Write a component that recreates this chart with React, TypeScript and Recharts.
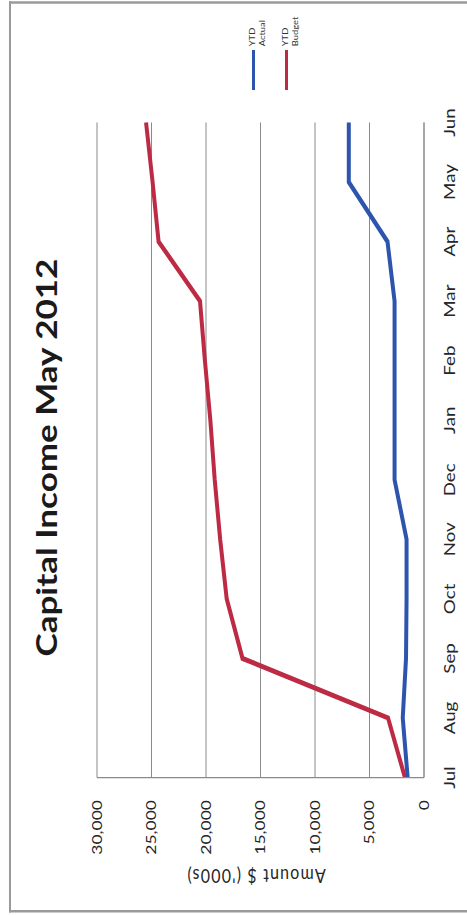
import { ComposedChart, Line, XAxis, YAxis, CartesianGrid, Legend } from 'recharts';

// Capital income, year to date, in $'000s (financial year Jul–Jun)
const months = ['Jul', 'Aug', 'Sep', 'Oct', 'Nov', 'Dec', 'Jan', 'Feb', 'Mar', 'Apr', 'May', 'Jun'];
const ytdActual = [1500, 1950, 1650, 1600, 1600, 2700, 2700, 2700, 2700, 3350, 6900, 6900];
const ytdBudget = [1750, 3300, 16650, 18100, 18700, 19200, 19600, 20100, 20550, 24350, 24900, 25500];
const amountTicks = [0, 5000, 10000, 15000, 20000, 25000, 30000];

const series = [
    { key: 'actual', lines: ['YTD', 'Actual'], color: '#2d55ad' },
    { key: 'budget', lines: ['YTD', 'Budget'], color: '#bd2a44' },
];

const data = months.map((month, i) => ({
    month,
    actual: ytdActual[i],
    budget: ytdBudget[i],
}));

// chart is laid out landscape, then turned to portrait
const W = 732;
const H = 467;
const GRID = '#8a8a8a';
const FONT = 'Lato, "Noto Sans", sans-serif';

function LegendBox() {
    return (
        <div style={{ display: 'flex', flexDirection: 'column' }}>
            {series.map((s) => (
                <div key={s.key} style={{ display: 'flex', alignItems: 'flex-start', height: 33 }}>
                    <span style={{ width: 32, height: 3, marginTop: 4, marginRight: 3, background: s.color }} />
                    <span style={{ fontSize: 7.5, lineHeight: '10px', color: '#333', fontFamily: FONT }}>
                        {s.lines[0]}
                        <br />
                        {s.lines[1]}
                    </span>
                </div>
            ))}
        </div>
    );
}

export default function App() {
    return (
        <div
            style={{
                position: 'absolute',
                left: 0,
                top: 0,
                width: W,
                height: H,
                background: '#fff',
                fontFamily: FONT,
                transformOrigin: '0 0',
                transform: 'translate(0px, 915px) rotate(-90deg) scaleX(1.25)',
            }}
        >
            <div
                style={{
                    position: 'absolute',
                    left: 2,
                    top: 9,
                    width: 729,
                    height: H - 9,
                    boxSizing: 'border-box',
                    borderTop: '2px solid #9a9a9a',
                    borderLeft: '2px solid #9a9a9a',
                    borderRight: '2px solid #9a9a9a',
                }}
            />
            <div
                style={{
                    position: 'absolute',
                    top: 32,
                    left: 0,
                    width: W,
                    textAlign: 'center',
                    fontSize: 28,
                    lineHeight: 1,
                    fontWeight: 700,
                    color: '#1a1a1a',
                }}
            >
                Capital Income May 2012
            </div>
            <ComposedChart width={W} height={H} data={data} margin={{ top: 97, right: 98, bottom: 13, left: 0 }}>
                <CartesianGrid vertical={false} stroke={GRID} />
                <XAxis
                    dataKey="month"
                    interval={0}
                    height={30}
                    tickLine={false}
                    axisLine={{ stroke: GRID }}
                    tickMargin={14}
                    tick={{ fontSize: 15, fill: '#262626', fontFamily: FONT }}
                />
                <YAxis
                    domain={[0, 30000]}
                    ticks={amountTicks}
                    width={110}
                    tickLine={false}
                    axisLine={{ stroke: GRID }}
                    tickMargin={12}
                    tickFormatter={(v: number) => v.toLocaleString('en-US')}
                    tick={{ fontSize: 14, fill: '#262626', fontFamily: FONT }}
                    label={{
                        content: () => (
                            <text
                                x={31}
                                y={256}
                                transform="rotate(-90 31 256)"
                                textAnchor="middle"
                                dominantBaseline="central"
                                fontSize={16}
                                letterSpacing={1.2}
                                fill="#262626"
                                fontFamily={FONT}
                            >
                                Amount $ ('000s)
                            </text>
                        ),
                    }}
                />
                <Legend
                    layout="horizontal"
                    verticalAlign="middle"
                    align="center"
                    content={() => <LegendBox />}
                    wrapperStyle={{ left: 660, top: 248, width: 80, height: 70 }}
                />
                <Line
                    type="linear"
                    dataKey="budget"
                    name="YTD Budget"
                    stroke="#bd2a44"
                    strokeWidth={4}
                    dot={false}
                    activeDot={false}
                    isAnimationActive={false}
                />
                <Line
                    type="linear"
                    dataKey="actual"
                    name="YTD Actual"
                    stroke="#2d55ad"
                    strokeWidth={4}
                    dot={false}
                    activeDot={false}
                    isAnimationActive={false}
                />
            </ComposedChart>
        </div>
    );
}
